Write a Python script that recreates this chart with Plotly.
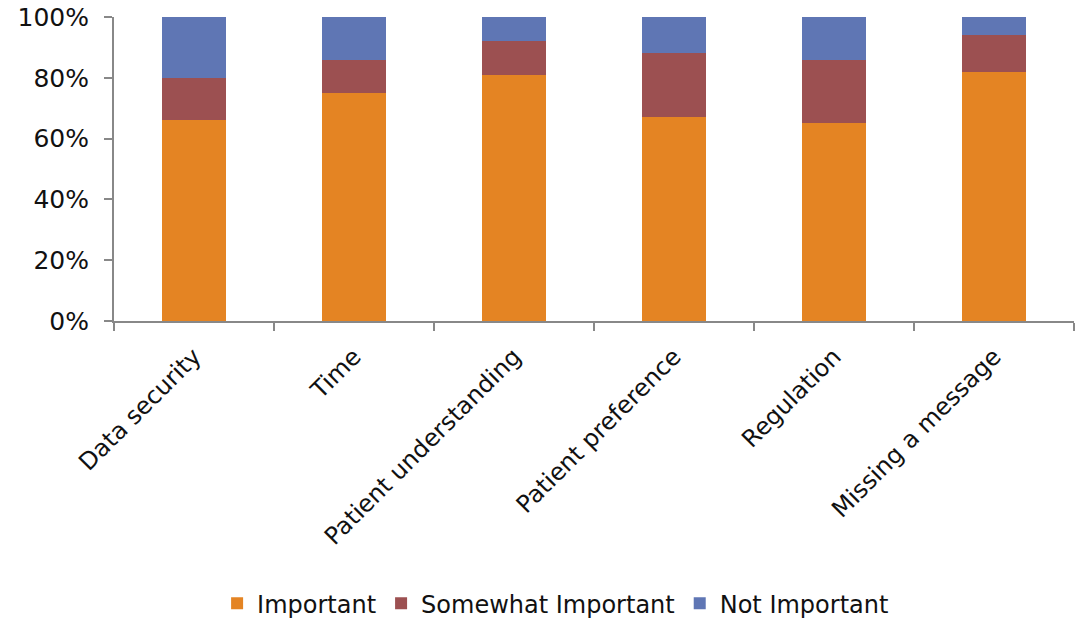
import plotly.graph_objects as go

categories = ["Data security", "Time", "Patient understanding", "Patient preference", "Regulation", "Missing a message"]
important = [66, 75, 81, 67, 65, 82]
somewhat = [14, 11, 11, 21, 21, 12]
not_important = [20, 14, 8, 12, 14, 6]

series = [
    ("Important", important, "#E48423"),
    ("Somewhat Important", somewhat, "#9C5051"),
    ("Not Important", not_important, "#5F76B4"),
]

fig = go.Figure()
for name, vals, color in series:
    fig.add_trace(go.Bar(x=categories, y=vals, name=name, marker=dict(color=color, line=dict(width=0)), width=0.4))

font_family = "DejaVu Sans, sans-serif"
fig.update_layout(
    barmode="stack",
    width=1078, height=631,
    margin=dict(l=114, r=4, t=17, b=310),
    paper_bgcolor="white", plot_bgcolor="white",
    font=dict(family=font_family, size=22, color="#111111"),
    showlegend=True,
    legend=dict(orientation="h", x=0.46, xanchor="center", y=-0.93, yanchor="middle",
                font=dict(size=24), itemwidth=30, traceorder="normal"),
    xaxis=dict(showline=True, linecolor="#888888", linewidth=2, ticks="outside", tickson="boundaries",
               ticklen=8, tickcolor="#888888", tickwidth=2, tickangle=-45, tickfont=dict(size=24),
               ticklabelstandoff=10, showgrid=False),
    yaxis=dict(range=[0, 100], tickvals=[0, 20, 40, 60, 80, 100], ticktext=["0%", "20%", "40%", "60%", "80%", "100%"],
               showline=True, linecolor="#888888", linewidth=2, ticks="outside", ticklen=8, tickcolor="#888888",
               tickwidth=2, showgrid=False, zeroline=False, tickfont=dict(size=25), ticklabelstandoff=10),
)
fig.write_html("out.html")
